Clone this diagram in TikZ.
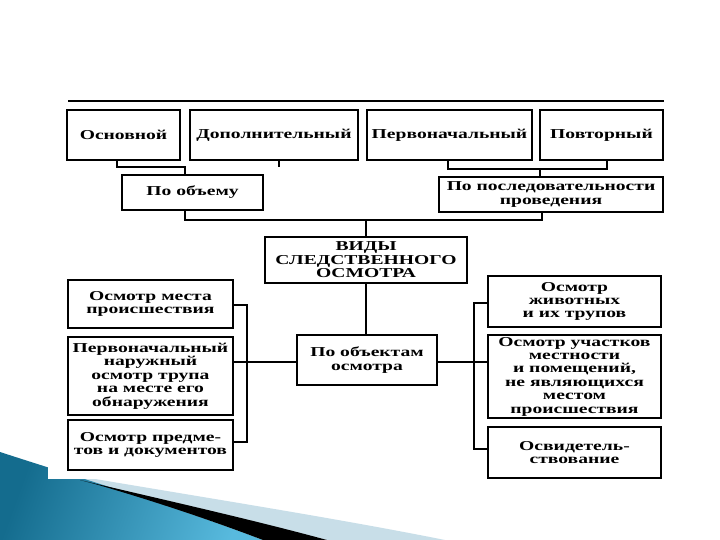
\documentclass[tikz,border=0pt]{standalone}
\usepackage{fontspec}
\newfontfamily\bx{Liberation Serif}[UprightFont=* Bold, FakeStretch=1.44]
\definecolor{tealdark}{RGB}{20,108,142}
\definecolor{teallight}{RGB}{88,186,222}
\definecolor{paleband}{RGB}{200,222,232}
\begin{document}
\begin{tikzpicture}[x=1pt,y=-1pt,
  box/.style={draw, line width=1.8pt, inner sep=0pt, align=center,
    font=\bx\fontsize{13.6}{13.4}\selectfont},
  conn/.style={line width=1.3pt},
  thickconn/.style={line width=1.7pt}]
\useasboundingbox (0,0) rectangle (720,540);
\fill[white] (0,0) rectangle (720,540);
% decorative swoosh, bottom left
\fill[paleband] (48,471) .. controls (200,497) and (330,517) .. (445,540) -- (327,540)
  .. controls (250,520) and (160,500) .. (80,481) -- cycle;
\shade[left color=tealdark, right color=teallight, shading angle=70]
  (0,452) .. controls (80,478) and (180,508) .. (263,540) -- (0,540) -- cycle;
\fill[black] (80,480) .. controls (160,499) and (250,519) .. (327,540) -- (263,540)
  .. controls (200,516) and (140,497) .. (95,484) -- cycle;
\fill[white] (48,0) rectangle (720,479);
% top row
\node[box, minimum width=113pt, minimum height=50pt] (osn)  at (123.5,135) {Основной};
\node[box, minimum width=168pt, minimum height=50pt] (dop)  at (274,135)   {Дополнительный};
\node[box, minimum width=165pt, minimum height=50pt] (perv) at (449.5,135) {Первоначальный};
\node[box, minimum width=123pt, minimum height=50pt] (povt) at (601.5,135) {Повторный};
% second row
\node[box, minimum width=141pt, minimum height=35pt] (obem) at (192.5,192.5) {По объему};
\node[box, minimum width=224pt, minimum height=35pt] (posl) at (551,194.5) {По последовательности\\проведения};
% centre
\node[box, minimum width=202pt, minimum height=46pt] (vidy) at (366,260) {ВИДЫ\\СЛЕДСТВЕННОГО\\ОСМОТРА};
\node[box, minimum width=140pt, minimum height=50pt] (obj)  at (367,360) {По объектам\\осмотра};
% left column
\node[box, minimum width=165pt, minimum height=48pt] (L1) at (150.5,304) {Осмотр места\\происшествия};
\node[box, minimum width=165pt, minimum height=78pt] (L2) at (150.5,376) {Первоначальный\\наружный\\осмотр трупа\\на месте его\\обнаружения};
\node[box, minimum width=165pt, minimum height=50pt] (L3) at (150.5,445) {Осмотр предме-\\тов и документов};
% right column
\node[box, minimum width=173pt, minimum height=51pt] (R1) at (574.5,301.5) {Осмотр\\животных\\и их трупов};
\node[box, minimum width=173pt, minimum height=83pt] (R2) at (574.5,376.5) {Осмотр участков\\местности\\и помещений,\\не являющихся\\местом\\происшествия};
\node[box, minimum width=173pt, minimum height=51pt] (R3) at (574.5,452.5) {Освидетель-\\ствование};
% top line
\coordinate (tl1) at (68,101); \coordinate (tl2) at (664,101);
\draw[conn] (tl1) -- (tl2);
% brackets under top row
\coordinate (a1) at (117,167); \coordinate (a2) at (185,167);
\draw[conn] (osn.south -| a1) -- (a1) -- (a2) -- (obem.north -| a2);
\coordinate (t1) at (279,167);
\draw[line width=2.5pt] (dop.south -| t1) -- (t1);
\coordinate (b1) at (448,169); \coordinate (b2) at (607,169); \coordinate (b3) at (540,169);
\draw[conn] (perv.south -| b1) -- (b1) -- (b2) -- (povt.south -| b2);
\draw[conn] (b3) -- (posl.north -| b3);
% to the centre box
\coordinate (c1) at (185,220); \coordinate (c2) at (542,220); \coordinate (c3) at (366,220);
\draw[conn] (obem.south -| c1) -- (c1) -- (c2) -- (posl.south -| c2);
\draw[thickconn] (c3) -- (vidy.north -| c3);
\draw[thickconn] (vidy.south) -- (obj.north -| vidy.south);
% left spine
\coordinate (l1) at (247,305); \coordinate (l2) at (247,442); \coordinate (hl) at (0,362);
\draw[conn] (L1.east |- l1) -- (l1) -- (l2) -- (L3.east |- l2);
\draw[conn] (L2.east |- hl) -- (obj.west |- hl);
% right spine
\coordinate (r1) at (474,303); \coordinate (r2) at (474,449);
\draw[conn] (R1.west |- r1) -- (r1) -- (r2) -- (R3.west |- r2);
\draw[conn] (obj.east |- hl) -- (R2.west |- hl);
\end{tikzpicture}
\end{document}
